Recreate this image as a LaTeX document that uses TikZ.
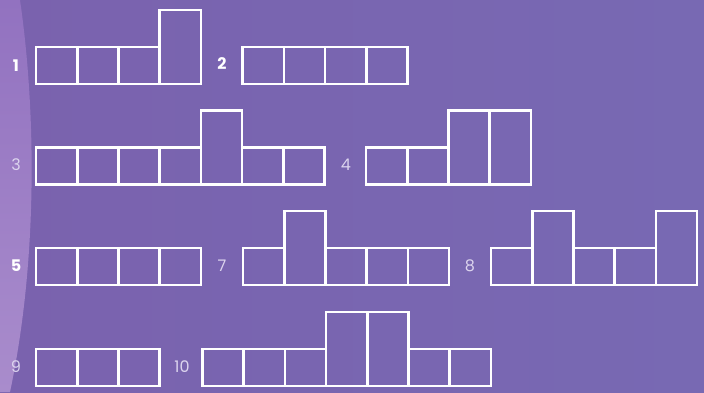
\documentclass[tikz,border=0pt]{standalone}
\usepackage{fontspec}
\setmainfont{Poppins}
\definecolor{bgA}{HTML}{7A62AE}
\definecolor{bgB}{HTML}{7869B3}
\definecolor{bandTop}{HTML}{9272C0}
\definecolor{bandBot}{HTML}{A98CCC}
\definecolor{lightnum}{HTML}{DCD4EE}
\tikzset{
  cell/.style={draw=white, line width=2.6pt, line join=miter},
  boldnum/.style={text=white, font=\fontsize{16}{16}\selectfont\bfseries, inner sep=0pt},
  lightnum/.style={text=lightnum, font=\fontsize{16}{16}\selectfont, inner sep=0pt},
}
\newcommand{\figrow}[3]{% start x, bottom y, list of s/t
  \foreach \k [count=\i from 0] in {#3}{
    \pgfmathsetmacro{\xa}{#1+\i*41.2}
    \pgfmathsetmacro{\xb}{#1+(\i+1)*41.2}
    \if\k t
      \draw[cell] (\xa,#2) rectangle (\xb,#2-74);
    \else
      \draw[cell] (\xa,#2) rectangle (\xb,#2-37);
    \fi
  }
}
\begin{document}
\begin{tikzpicture}[x=1pt,y=-1pt]
\useasboundingbox (0,0) rectangle (704,392);
\shade[left color=bgA, right color=bgB] (0,0) rectangle (704,392);
\shade[top color=bandTop, bottom color=bandBot]
  (0,0) -- (20,0) .. controls (36,110) and (38,260) .. (10,392) -- (0,392) -- cycle;
% row 1
\figrow{36}{84}{s,s,s,t}
\figrow{242.7}{84}{s,s,s,s}
% row 2
\figrow{36}{184.5}{s,s,s,s,t,s,s}
\figrow{366}{184.5}{s,s,t,t}
% row 3
\figrow{36}{285}{s,s,s,s}
\figrow{243}{285}{s,t,s,s,s}
\figrow{491}{285}{s,t,s,s,t}
% row 4
\figrow{36}{386}{s,s,s}
\figrow{202.5}{386}{s,s,s,t,t,s,s}
% labels
\node[boldnum] (n1) at (16,66) {1};
\node[boldnum] (n2) at (222,64) {2};
\node[lightnum] (n3) at (16,165) {3};
\node[lightnum] (n4) at (346,165) {4};
\node[boldnum] (n5) at (16,266) {5};
\node[lightnum] (n7) at (222,266) {7};
\node[lightnum] (n8) at (470,266) {8};
\node[lightnum] (n9) at (16,367) {9};
\node[lightnum] (n10) at (182,367) {10};
\end{tikzpicture}
\end{document}
